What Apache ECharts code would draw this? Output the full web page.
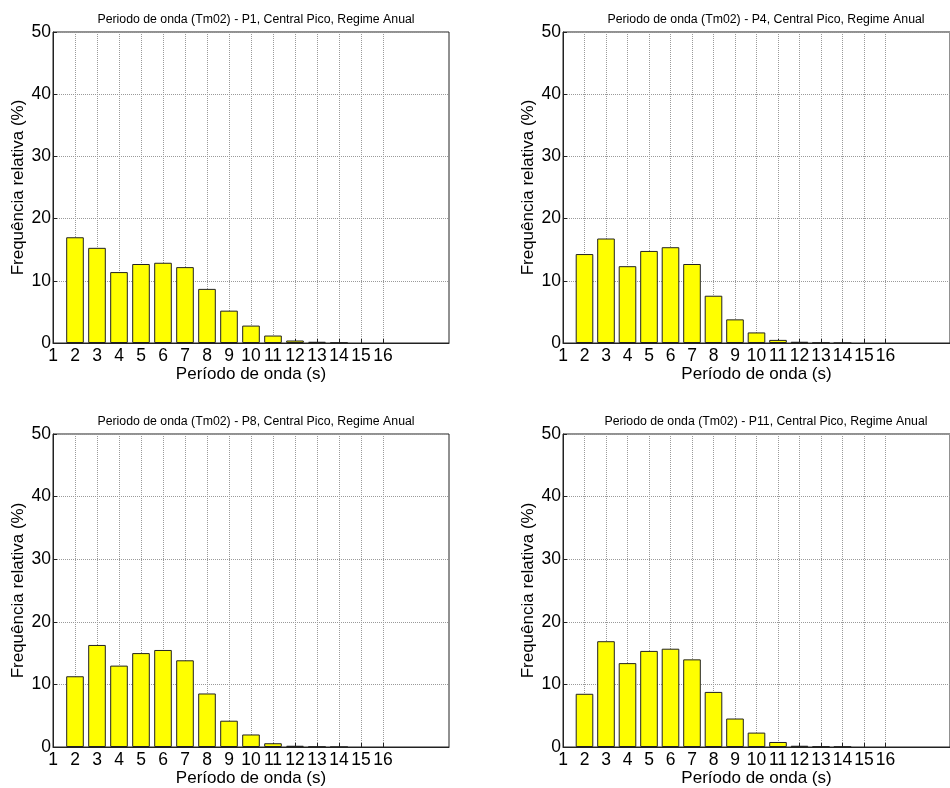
<!DOCTYPE html>
<html><head><meta charset="utf-8">
<script src="https://cdn.jsdelivr.net/npm/echarts@6/dist/echarts.min.js"></script>
<style>html,body{margin:0;padding:0;background:#fff}#c{width:950px;height:788px}</style>
</head><body><div id="c"></div>
<script>
const periods = [2,3,4,5,6,7,8,9,10,11,12,13,14];
const p1  = [17.0,15.3,11.4,12.7,12.9,12.2,8.7,5.2,2.8,1.2,0.4,0.2,0.05];
const p4  = [14.3,16.8,12.35,14.8,15.4,12.7,7.6,3.8,1.7,0.5,0.2,0.05,0];
const p8  = [11.3,16.3,13.0,15.0,15.5,13.85,8.55,4.2,2.0,0.6,0.2,0.05,0];
const p11 = [8.5,16.9,13.4,15.35,15.7,14.0,8.8,4.55,2.3,0.8,0.2,0.1,0.05];
const xTicks = [1,2,3,4,5,6,7,8,9,10,11,12,13,14,15,16];
const yTicks = [0,10,20,30,40,50];
const titles = [
  'Periodo de onda (Tm02) - P1, Central Pico, Regime Anual',
  'Periodo de onda (Tm02) - P4, Central Pico, Regime Anual',
  'Periodo de onda (Tm02) - P8, Central Pico, Regime Anual',
  'Periodo de onda (Tm02) - P11, Central Pico, Regime Anual'
];
const seriesData = [p1, p4, p8, p11];
const xLabel = 'Período de onda (s)';
const yLabel = 'Frequência relativa (%)';

const FONT = 'Liberation Sans, Arial, sans-serif';
const grids = [
  {left:53, top:32, width:396, height:311},
  {left:563, top:32, width:396, height:311},
  {left:53, top:434, width:396, height:313},
  {left:563, top:434, width:396, height:313}
];
const option = {
  animation:false,
  backgroundColor:'#fff',
  title: grids.map((g,i)=>({
    text: titles[i], left: g.left + g.width/2, top: g.top - 23, textAlign:'center',
    textStyle:{fontFamily:FONT, fontSize:12.3, fontWeight:'normal', color:'#000'}
  })),
  grid: grids.map(g=>Object.assign({show:true, borderColor:'#222', borderWidth:1, backgroundColor:'#fff', containLabel:false}, g)),
  xAxis: grids.map((g,i)=>({
    type:'value', gridIndex:i, min:1, max:19, interval:1,
    name:xLabel, nameLocation:'middle', nameGap:23, nameMoveOverlap:false,
    nameTextStyle:{fontFamily:FONT, fontSize:17, color:'#000', verticalAlign:'top'},
    axisLine:{show:true, lineStyle:{color:'#222'}},
    axisTick:{show:true, inside:true, length:4, customValues:xTicks, lineStyle:{color:'#222'}},
    axisLabel:{customValues:xTicks, fontFamily:FONT, fontSize:17.5, color:'#000', margin:4},
    splitLine:{show:true, lineStyle:{color:'#9a9a9a', type:'dotted', width:1}}
  })),
  yAxis: grids.map((g,i)=>({
    type:'value', gridIndex:i, min:yTicks[0], max:yTicks[yTicks.length-1], interval:10,
    name:yLabel, nameLocation:'middle', nameGap:26, nameMoveOverlap:false,
    nameTextStyle:{fontFamily:FONT, fontSize:17, color:'#000'},
    axisLine:{show:true, lineStyle:{color:'#222'}},
    axisTick:{show:true, inside:true, length:4, lineStyle:{color:'#222'}},
    axisLabel:{fontFamily:FONT, fontSize:17.5, color:'#000', margin:2},
    splitLine:{show:true, lineStyle:{color:'#9a9a9a', type:'dotted', width:1}}
  })),
  series: seriesData.map((d,i)=>({
    type:'bar', xAxisIndex:i, yAxisIndex:i, barWidth:17.6,
    data: periods.map((p,k)=>[p, d[k]]),
    itemStyle:{color:'#ffff00', borderColor:'#222', borderWidth:1}
  }))
};
echarts.init(document.getElementById('c'), null, {renderer:'canvas'}).setOption(option);
</script></body></html>
